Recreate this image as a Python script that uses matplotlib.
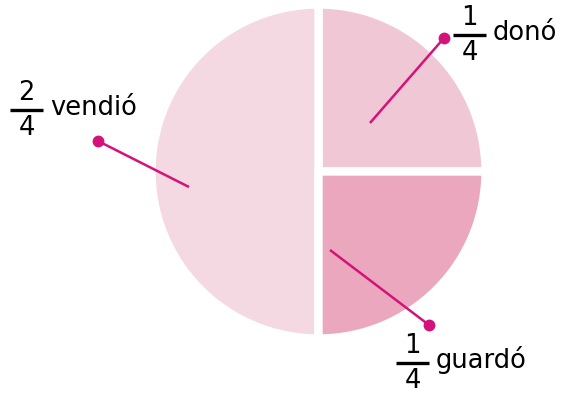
import matplotlib
matplotlib.use("Agg")
import matplotlib.pyplot as plt

labels = ["donó", "vendió", "guardó"]
numerators = [1, 2, 1]
denominators = [4, 4, 4]
values = [1, 2, 1]
colors = ["#F0C7D5", "#F5D9E2", "#EBA7BD"]

W, H = 571, 393
fig = plt.figure(figsize=(W / 100, H / 100), dpi=100)
ax = fig.add_axes([0, 0, 1, 1])

def Y(py):
    return H - py

ax.pie(values, colors=colors, startangle=0, counterclock=True,
       center=(318.5, Y(171.5)), radius=167, frame=True,
       wedgeprops=dict(edgecolor="white", linewidth=6.0))
ax.set_xlim(0, W)
ax.set_ylim(0, H)
ax.set_aspect("equal")
ax.axis("off")

mag = "#D4137A"
leaders = {
    "donó": ((444, 38), (370, 123)),
    "vendió": ((98, 141), (189, 187)),
    "guardó": ((429, 325), (330, 250)),
}
for lab, (d, e) in leaders.items():
    ax.plot([d[0], e[0]], [Y(d[1]), Y(e[1])], color=mag, lw=1.8, solid_capstyle="butt")
    ax.plot(d[0], Y(d[1]), "o", color=mag, ms=7.5)

label_pos = {
    "donó": (453, 35),
    "vendió": (10, 110),
    "guardó": (396, 363),
}
fam = "DejaVu Sans"
fsn = 18.5
fsw = 18.5
for lab, num, den in zip(labels, numerators, denominators):
    bx, by = label_pos[lab]
    bw = 33
    ax.plot([bx, bx + bw], [Y(by), Y(by)], color="black", lw=2.4, solid_capstyle="butt")
    ax.text(bx + bw / 2, Y(by - 4), str(num), ha="center", va="bottom",
            fontsize=fsn, family=fam, color="black")
    ax.text(bx + bw / 2, Y(by + 5), str(den), ha="center", va="top",
            fontsize=fsn, family=fam, color="black")
    ax.text(bx + bw + 7, Y(by + 5), lab, ha="left", va="baseline",
            fontsize=fsw, family=fam, color="black")

fig.savefig("out.png", dpi=100)
